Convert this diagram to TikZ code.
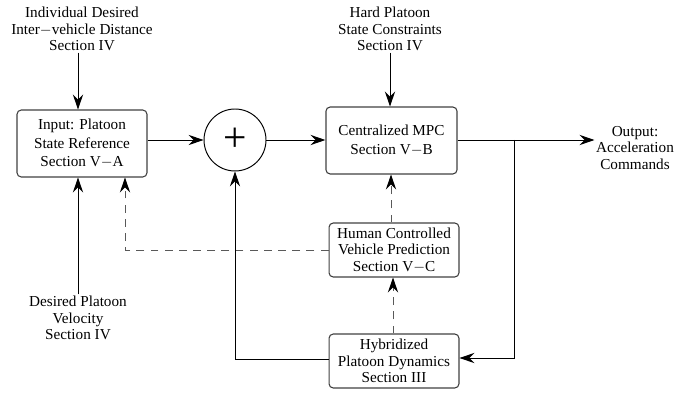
\documentclass[tikz,border=0pt]{standalone}
\usepackage{fontspec}
\setmainfont{Liberation Serif}
\usepackage{tikz}
\usetikzlibrary{arrows.meta}
\tikzset{
  box/.style={draw=black!75,line width=0.8pt,rounded corners=3pt,align=center,font=\fontsize{11}{12}\selectfont,inner sep=1pt},
  lbl/.style={align=center,font=\fontsize{11}{12}\selectfont,inner sep=1pt},
  arr/.style={-{Stealth[length=3.8mm,width=2.6mm,inset=1.3mm]},line width=0.7pt},
  dasharr/.style={-{Stealth[length=3.8mm,width=2.6mm,inset=1.3mm,black]},line width=0.7pt,draw=black!65,dash pattern=on 2mm off 1.6mm},
}
\begin{document}
\begin{tikzpicture}[x=0.0254cm,y=-0.0254cm]
\useasboundingbox (0,0) rectangle (699,393);
% inputs and blocks
\node[lbl] (dist) at (82,29) {Individual Desired\\Inter$-$vehicle Distance\\Section IV};
\node[lbl] (cons) at (390,29) {Hard Platoon\\State Constraints\\Section IV};
\node[lbl] (vel) at (78,318) {Desired Platoon\\Velocity\\Section IV};
\node[lbl] (out) at (635,148) {Output:\\Acceleration\\Commands};
\node[box,minimum width=3.3cm,minimum height=1.7cm,font=\fontsize{11}{13.4}\selectfont] (ref) at (82,143.5) {Input: Platoon\\State Reference\\Section V$-$A};
\node[draw,circle,line width=0.7pt,minimum size=1.575cm,inner sep=0pt,font=\fontsize{30}{30}\selectfont] (sum) at (235,140) {+};
\node[box,minimum width=3.33cm,minimum height=1.7cm,font=\fontsize{11}{13.4}\selectfont] (mpc) at (391.5,140.5) {Centralized MPC\\Section V$-$B};
\node[box,minimum width=3.3cm,minimum height=1.37cm] (hcv) at (394,250) {Human Controlled\\Vehicle Prediction\\Section V$-$C};
\node[box,minimum width=3.3cm,minimum height=1.37cm] (hyb) at (394,361) {Hybridized\\Platoon Dynamics\\Section III};
\coordinate (br) at (514,140);
% solid connectors
\draw[arr] (dist.south -| 78,0) -- (78,0 |- ref.north);
\draw[arr] (cons.south) -- (cons.south |- mpc.north);
\draw[arr] (vel.north) -- (vel.north |- ref.south);
\draw[arr] (ref.east |- sum.west) -- (sum.west);
\draw[arr] (sum.east) -- (mpc.west |- sum.east);
\draw[arr] (mpc.east |- br) -- (out.west |- br);
\draw[arr] (br) -- (br |- 0,358) -- (hyb.east |- 0,358);
\draw[arr] (hyb.west |- 0,359) -- (sum.south |- 0,359) -- (sum.south);
% dashed connectors
\draw[dasharr] (hcv.north -| 391,0) -- (391,0 |- mpc.south);
\draw[dasharr] (hyb.north -| 393,0) -- (393,0 |- hcv.south);
\draw[dasharr] (hcv.west) -- (125,250) -- (125,0 |- ref.south);
\end{tikzpicture}
\end{document}
